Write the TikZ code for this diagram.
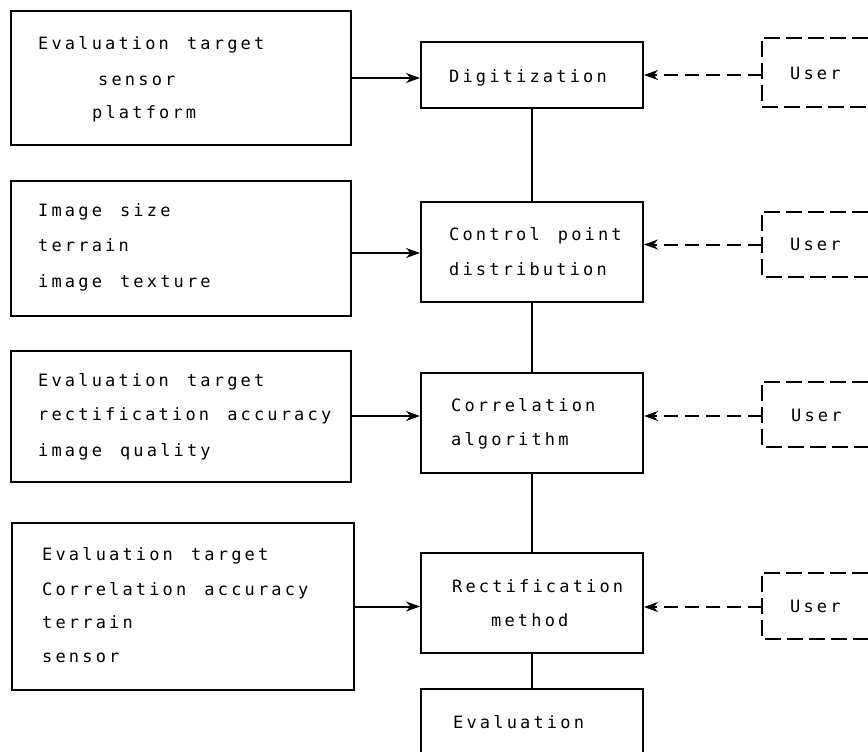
\documentclass[tikz,border=0pt]{standalone}
\usepackage{fontspec}
\setmonofont[LetterSpace=18.6,WordSpace=1.35]{DejaVu Sans Mono}
\usetikzlibrary{arrows.meta}
\tikzset{
  box/.style={draw, line width=2pt, rectangle, inner sep=0pt},
  txt/.style={anchor=base west, inner sep=0pt, font=\ttfamily\fontsize{17}{17}\selectfont},
  feed/.style={line width=2pt, -{Stealth[length=14pt,width=10pt]}},
  userarrow/.style={line width=2pt, dash pattern=on 14pt off 7pt, -{Stealth[length=14pt,width=10pt]}},
  userbox/.style={line width=2pt, dash pattern=on 16pt off 6pt},
  link/.style={line width=1.5pt}
}
\begin{document}
\begin{tikzpicture}[x=1pt,y=-1pt]
\useasboundingbox (0,0) rectangle (868,752);
% left boxes
\node[box, minimum width=340pt, minimum height=134pt] (L1) at (181,78) {};
\node[box, minimum width=340pt, minimum height=135pt] (L2) at (181,248.5) {};
\node[box, minimum width=340pt, minimum height=131pt] (L3) at (181,416) {};
\node[box, minimum width=342pt, minimum height=167pt] (L4) at (183,606.5) {};
% left texts
\node[txt] (t1a) at (38,50) {Evaluation target};
\node[txt] (t1b) at (98,85) {sensor};
\node[txt] (t1c) at (92,118) {platform};
\node[txt] (t2a) at (38,216) {Image size};
\node[txt] (t2b) at (38,251) {terrain};
\node[txt] (t2c) at (38,287) {image texture};
\node[txt] (t3a) at (38,386) {Evaluation target};
\node[txt] (t3b) at (38,420) {rectification accuracy};
\node[txt] (t3c) at (38,456) {image quality};
\node[txt] (t4a) at (42,560) {Evaluation target};
\node[txt] (t4b) at (42,595) {Correlation accuracy};
\node[txt] (t4c) at (42,628) {terrain};
\node[txt] (t4d) at (42,662) {sensor};
% middle boxes
\node[box, minimum width=222pt, minimum height=66pt] (M1) at (532,75) {};
\node[box, minimum width=222pt, minimum height=100pt] (M2) at (532,252) {};
\node[box, minimum width=222pt, minimum height=100pt] (M3) at (532,423) {};
\node[box, minimum width=222pt, minimum height=100pt] (M4) at (532,603) {};
\node[minimum width=222pt, minimum height=70pt, inner sep=0pt] (M5) at (532,724) {};
\draw[line width=2pt] (M5.south west) -- (M5.north west) -- (M5.north east) -- (M5.south east);
\node[txt] (m1) at (449,82) {Digitization};
\node[txt] (m2a) at (449,240) {Control point};
\node[txt] (m2b) at (449,275) {distribution};
\node[txt] (m3a) at (451,411) {Correlation};
\node[txt] (m3b) at (451,445) {algorithm};
\node[txt] (m4a) at (452,592) {Rectification};
\node[txt] (m4b) at (491,626) {method};
\node[txt] (m5) at (453,728) {Evaluation};
% vertical links
\draw[link] (M1.south) -- (M2.north);
\draw[link] (M2.south) -- (M3.north);
\draw[link] (M3.south) -- (M4.north);
\draw[link] (M4.south) -- (M5.north);
% user boxes (open to the right)
\node[minimum width=106pt, minimum height=69pt, inner sep=0pt] (U1) at (815,72.5) {};
\node[minimum width=106pt, minimum height=65pt, inner sep=0pt] (U2) at (815,244.5) {};
\node[minimum width=106pt, minimum height=65pt, inner sep=0pt] (U3) at (815,414.5) {};
\node[minimum width=106pt, minimum height=66pt, inner sep=0pt] (U4) at (815,606) {};
\foreach \u in {U1,U2,U3,U4}{
  \draw[userbox] (\u.north east) -- (\u.north west) -- (\u.south west) -- (\u.south east);
}
\node[txt] (u1) at (790,80) {User};
\node[txt] (u2) at (790,250) {User};
\node[txt] (u3) at (791,421) {User};
\node[txt] (u4) at (790,612) {User};
% feed arrows
\draw[feed] (L1.east) -- (L1.east -| M1.west);
\draw[feed] ([yshift=-4.5pt]L2.east) -- ([yshift=-4.5pt]L2.east -| M2.west);
\draw[feed] (L3.east) -- (L3.east -| M3.west);
\draw[feed] (L4.east) -- (L4.east -| M4.west);
% user arrows
\draw[userarrow] ([yshift=-2.5pt]U1.west) -- ([yshift=-2.5pt]U1.west -| M1.east);
\draw[userarrow] (U2.west) -- (U2.west -| M2.east);
\draw[userarrow] ([yshift=-1.5pt]U3.west) -- ([yshift=-1.5pt]U3.west -| M3.east);
\draw[userarrow] ([yshift=-1pt]U4.west) -- ([yshift=-1pt]U4.west -| M4.east);
\end{tikzpicture}
\end{document}
